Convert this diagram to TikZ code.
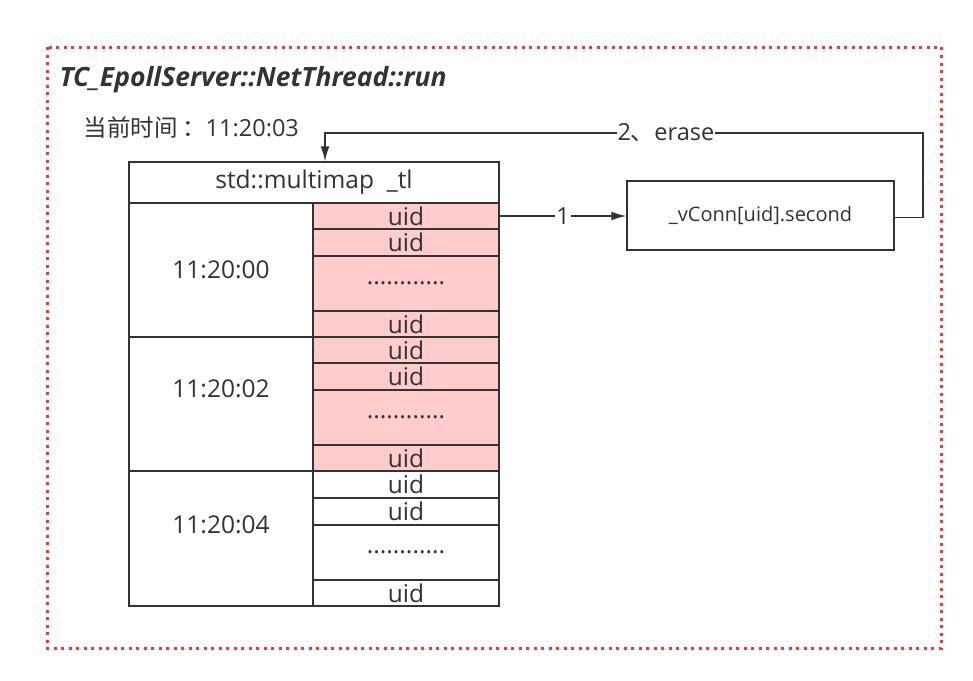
\documentclass[tikz,border=0pt]{standalone}
\usepackage{fontspec}
\setmainfont{Open Sans}
\newfontfamily\cjk{Noto Sans CJK SC}
\usetikzlibrary{arrows.meta}
\definecolor{ln}{HTML}{333333}
\definecolor{pk}{HTML}{FFCCCC}
\definecolor{rd}{HTML}{FF3333}
\begin{document}
\begin{tikzpicture}[x=1pt,y=-1pt,
  cell/.style={draw=ln,line width=1.5pt,inner sep=0pt,minimum width=186pt,text=ln,font=\fontsize{24.5}{28}\selectfont},
  pcell/.style={cell,fill=pk},
  lcell/.style={draw=ln,line width=1.5pt,inner sep=0pt,minimum width=184pt},
  ltxt/.style={text=ln,font=\fontsize{24.5}{28}\selectfont},
  arr/.style={draw=ln,line width=1.5pt,-{Latex[length=15pt,width=9pt]}},
  lab/.style={fill=white,inner sep=1pt,text=ln,font=\fontsize{23.5}{28}\selectfont}]
\useasboundingbox (0,0) rectangle (973,680);
\fill[white] (0,0) rectangle (973,680);
\draw[rd,line width=3pt,dash pattern=on 3pt off 4.5pt] (47,47) rectangle (941,648);
\node[anchor=west,text=ln,font=\fontsize{26.5}{30}\selectfont\bfseries\itshape] (title) at (56,80) {TC\_EpollServer::NetThread::run};
\node[anchor=west,text=ln,font=\fontsize{23.5}{28}\selectfont] (now) at (80,128) {{\cjk 当前时间\hspace{0.2em}：}11:20:03};
\node[draw=ln,line width=1.5pt,minimum width=370pt,minimum height=41pt,inner sep=0pt,text=ln,font=\fontsize{24.5}{28}\selectfont] (hdr) at (314,182.5) {std::multimap\ \ \_tl};
% left column
\node[lcell,minimum height=134pt] (t0) at (221,270) {};
\node[lcell,minimum height=134pt] (t2) at (221,404) {};
\node[lcell,minimum height=135pt] (t4) at (221,538.5) {};
\node[ltxt] (t0l) at (t0.center) {11:20:00};
\node[ltxt] (t2l) at ([yshift=15pt]t2.center) {11:20:02};
\node[ltxt] (t4l) at ([yshift=14pt]t4.center) {11:20:04};
% group 1
\node[pcell,minimum height=26pt] (a1) at (406,216) {uid};
\node[pcell,minimum height=27pt] (a2) at (406,242.5) {uid};
\node[pcell,minimum height=55pt] (a3) at (406,283.5) {............};
\node[pcell,minimum height=26pt] (a4) at (406,324) {uid};
% group 2
\node[pcell,minimum height=26pt] (b1) at (406,350) {uid};
\node[pcell,minimum height=27pt] (b2) at (406,376.5) {uid};
\node[pcell,minimum height=55pt] (b3) at (406,417.5) {............};
\node[pcell,minimum height=26pt] (b4) at (406,458) {uid};
% group 3
\node[cell,minimum height=27pt] (c1) at (406,484.5) {uid};
\node[cell,minimum height=27pt] (c2) at (406,511.5) {uid};
\node[cell,minimum height=55pt] (c3) at (406,552.5) {............};
\node[cell,minimum height=26pt] (c4) at (406,593) {uid};
% vConn
\node[draw=ln,line width=1.5pt,minimum width=267pt,minimum height=69pt,inner sep=0pt,text=ln,font=\fontsize{20}{24}\selectfont] (vc) at (760.5,215.5) {\_vConn[uid].second};
\coordinate (p1) at (923,133);
\coordinate (p2) at (325,133);
\draw[arr] (a1.east) -- node[lab]{1} (vc.west |- a1.east);
\draw[arr] ([yshift=-2pt]vc.east) -| (p1) -- node[lab,pos=0.43]{2{\cjk 、}erase} (p2) -- (p2 |- hdr.north);
\end{tikzpicture}
\end{document}
